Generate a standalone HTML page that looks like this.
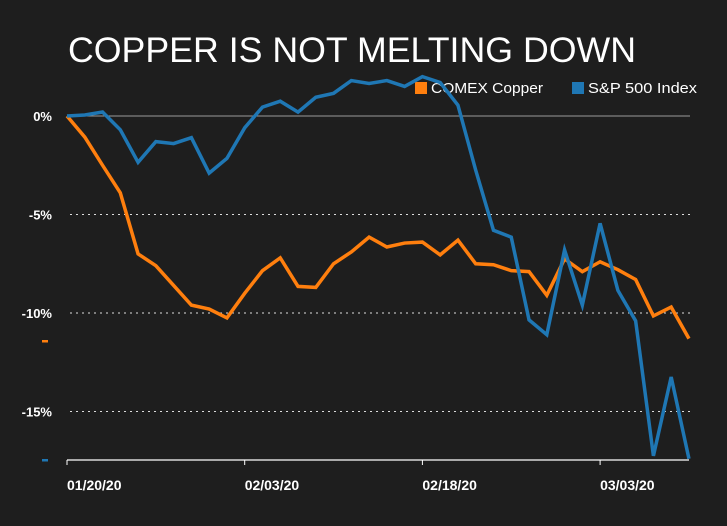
<!DOCTYPE html>
<html><head><meta charset="utf-8">
<style>
html,body{margin:0;padding:0;background:#1e1e1e;}
body{width:727px;height:521px;overflow:hidden;font-family:"Liberation Sans",sans-serif;}
</style></head>
<body>
<svg width="727" height="521" xmlns="http://www.w3.org/2000/svg">
<rect width="727" height="521" fill="#1e1e1e"/>
<text x="68" y="62" fill="#fff" font-size="35" textLength="568" lengthAdjust="spacingAndGlyphs" font-family="Liberation Sans, sans-serif">COPPER IS NOT MELTING DOWN</text>
<g>
<rect x="415" y="82" width="12" height="12" fill="#ff7f0e"/>
<text x="431" y="93" fill="#fff" font-size="15" textLength="112" lengthAdjust="spacingAndGlyphs">COMEX Copper</text>
<rect x="572" y="82" width="12" height="12" fill="#1f77b4"/>
<text x="588" y="93" fill="#fff" font-size="15" textLength="109" lengthAdjust="spacingAndGlyphs">S&amp;P 500 Index</text>
</g>
<g id="grid"></g>
<g id="axes"></g>
<g id="series"></g>
<rect x="42" y="340" width="6" height="2.5" fill="#ff7f0e"/>
<rect x="42" y="459" width="6" height="2.5" fill="#1f77b4"/>
</svg>
<script>
const copper=[0,-1.07,-2.5,-3.9,-7.0,-7.6,-8.6,-9.6,-9.8,-10.25,-9.0,-7.85,-7.2,-8.65,-8.7,-7.5,-6.9,-6.15,-6.65,-6.45,-6.4,-7.05,-6.3,-7.5,-7.55,-7.85,-7.9,-9.1,-7.25,-7.9,-7.4,-7.8,-8.3,-10.15,-9.7,-11.3];
const sp500=[0,0.05,0.2,-0.7,-2.35,-1.3,-1.4,-1.1,-2.9,-2.15,-0.6,0.45,0.75,0.2,0.95,1.15,1.8,1.65,1.8,1.5,2.0,1.7,0.55,-2.75,-5.8,-6.15,-10.35,-11.1,-6.8,-9.6,-5.45,-8.85,-10.4,-17.25,-13.25,-17.4];
const yTicks=[0,-5,-10,-15];
const yTickLabels=["0%","-5%","-10%","-15%"];
const xTickIdx=[0,10,20,30];
const xTickLabels=["01/20/20","02/03/20","02/18/20","03/03/20"];
const NS="http://www.w3.org/2000/svg";
const x0=67,dx=17.77,yZero=116,pxPer=19.7,yBottom=460;
const X=i=>x0+i*dx, Y=v=>yZero-v*pxPer;
function mk(t,a,p){const e=document.createElementNS(NS,t);for(const k in a)e.setAttribute(k,a[k]);p.appendChild(e);return e;}
const grid=document.getElementById('grid'),axes=document.getElementById('axes'),ser=document.getElementById('series');
yTicks.forEach((v,i)=>{
 const l=mk('line',{x1:70,x2:690,y1:Y(v),y2:Y(v),stroke:v===0?'#999':'#ddd','stroke-width':1,'stroke-dasharray':v===0?'none':'2,4'},grid);
 
 
 const t=mk('text',{x:52,y:Y(v)+5,fill:'#fff','font-size':13,'font-weight':'bold','text-anchor':'end'},axes);
 t.textContent=yTickLabels[i];
 
 
});
const ax=mk('line',{x1:67,x2:689,y1:yBottom,y2:yBottom,stroke:'#fff','stroke-width':1.2},axes);


xTickIdx.forEach((idx,i)=>{
 const tk=mk('line',{x1:X(idx),x2:X(idx),y1:yBottom,y2:yBottom+5,stroke:'#fff'},axes);
 
 
 const t=mk('text',{x:X(idx),y:490,fill:'#fff','font-size':14,'font-weight':'bold'},axes);
 t.textContent=xTickLabels[i];
 
 
});
function line(d,c,n){
 const p=mk('polyline',{points:d.map((v,i)=>X(i)+','+Y(v)).join(' '),fill:'none',stroke:c,'stroke-width':3.5,'stroke-linejoin':'miter'},ser);
 
 
}
line(copper,'#ff7f0e','copper-line');
line(sp500,'#1f77b4','sp500-line');
</script>
</body></html>
